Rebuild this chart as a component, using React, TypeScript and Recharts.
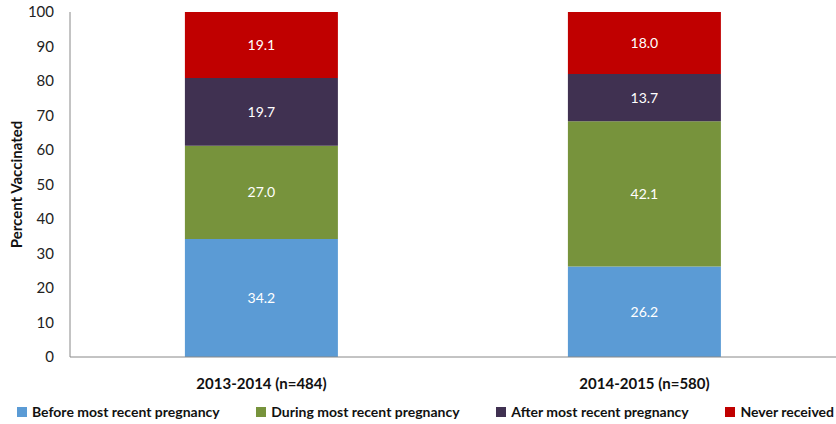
import React from 'react';
import { BarChart, Bar, XAxis, YAxis, Legend, LabelList } from 'recharts';

const seasons = ['2013-2014 (n=484)', '2014-2015 (n=580)'];
const before = [34.2, 26.2];
const during = [27.0, 42.1];
const after = [19.7, 13.7];
const never = [19.1, 18.0];
const yTicks = [0, 10, 20, 30, 40, 50, 60, 70, 80, 90, 100];

const series = [
  { key: 'before', name: 'Before most recent pregnancy', color: '#5B9BD5' },
  { key: 'during', name: 'During most recent pregnancy', color: '#77933C' },
  { key: 'after', name: 'After most recent pregnancy', color: '#403151' },
  { key: 'never', name: 'Never received', color: '#C00000' },
];

const data = seasons.map((s, i) => ({
  season: s,
  before: before[i],
  during: during[i],
  after: after[i],
  never: never[i],
}));

const FONT = 'Lato, "Open Sans", sans-serif';

const renderLegend = () => (
  <div style={{ display: 'flex', justifyContent: 'space-between', paddingLeft: 17, paddingRight: 2, fontFamily: FONT, fontWeight: 700, fontSize: 14, color: '#111' }}>
    {series.map(s => (
      <div key={s.key} style={{ display: 'flex', alignItems: 'center' }}>
        <span style={{ width: 10, height: 10, background: s.color, display: 'inline-block', marginRight: 5 }} />
        <span>{s.name}</span>
      </div>
    ))}
  </div>
);

export default function App() {
  return (
    <div style={{ position: 'absolute', left: 0, top: 0, width: 836, height: 424, background: '#fff' }}>
      <BarChart width={836} height={424} data={data} margin={{ top: 12, right: 0, left: 0, bottom: 0 }} barCategoryGap="30%">
        <XAxis
          dataKey="season"
          tickLine={false}
          axisLine={{ stroke: '#888' }}
          tick={{ fill: '#111', fontSize: 15, fontWeight: 700, fontFamily: FONT }}
          tickMargin={15}
          height={50}
        />
        <YAxis
          domain={[0, 100]}
          ticks={yTicks}
          interval={0}
          tickLine={false}
          axisLine={{ stroke: '#888' }}
          width={70}
          tickMargin={10}
          tick={{ fill: '#222', fontSize: 15, fontFamily: FONT }}
          label={{ value: 'Percent Vaccinated', angle: -90, position: 'insideLeft', dx: 12, style: { textAnchor: 'middle', fontWeight: 700, fontSize: 15, fill: '#111', fontFamily: FONT } }}
        />
        <Legend verticalAlign="bottom" content={renderLegend} wrapperStyle={{ bottom: 4 }} />
        {series.map(s => (
          <Bar key={s.key} dataKey={s.key} name={s.name} stackId="a" fill={s.color} isAnimationActive={false}>
            <LabelList dataKey={s.key} position="center" fill="#fff" fontSize={14} fontFamily={FONT} formatter={(v: any) => Number(v).toFixed(1)} />
          </Bar>
        ))}
      </BarChart>
    </div>
  );
}
